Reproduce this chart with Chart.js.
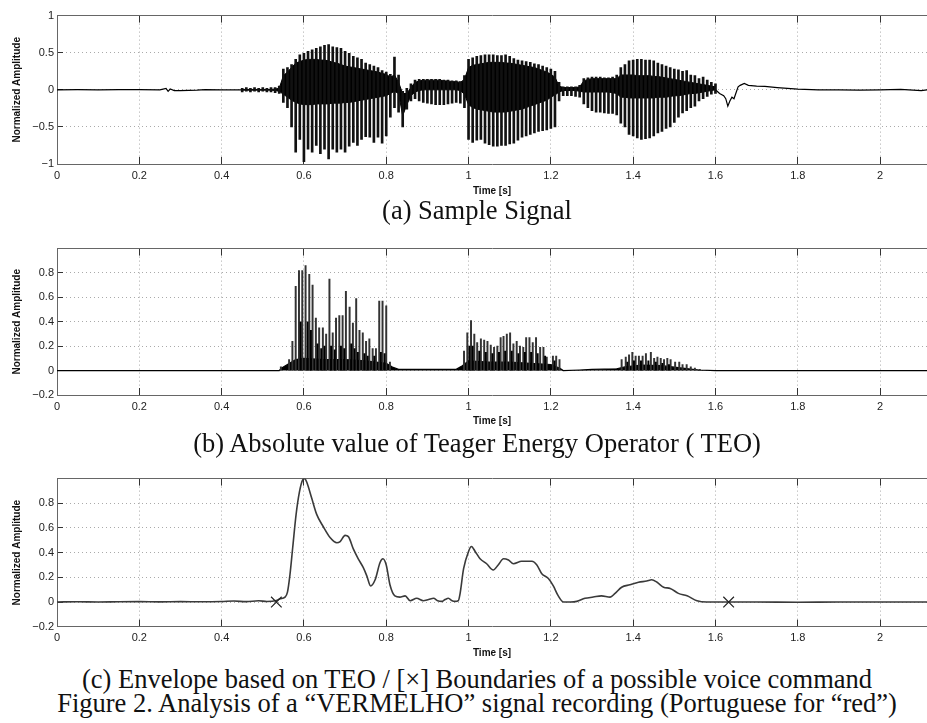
<!DOCTYPE html>
<html>
<head>
<meta charset="utf-8">
<script src="https://cdn.jsdelivr.net/npm/chart.js@4/dist/chart.umd.min.js"></script>
<style>
  html, body { margin: 0; padding: 0; background: #fff; width: 927px; height: 723px; overflow: hidden; }
  .panel { position: absolute; left: 0; width: 927px; height: 200px; }
  .cap { position: absolute; left: 0; width: 954px; text-align: center; white-space: nowrap;
         font-family: "Liberation Serif", "Times New Roman", serif; font-size: 26.5px; line-height: 30px; color: #111; }
</style>
</head>
<body>
<div class="panel" style="top:0px"><canvas id="chartA"></canvas></div>
<div class="cap" style="top:195px">(a) Sample Signal</div>
<div class="panel" style="top:233px"><canvas id="chartB"></canvas></div>
<div class="cap" style="top:428px">(b) Absolute value of Teager Energy Operator ( TEO)</div>
<div class="panel" style="top:463px"><canvas id="chartC"></canvas></div>
<div class="cap" style="top:664px">(c) Envelope based on TEO / [×] Boundaries of a possible voice command</div>
<div class="cap" style="top:688px">Figure 2. Analysis of a “VERMELHO” signal recording (Portuguese for “red”)</div>

<script>
// axes
var xMax = 2.114;
var xTicks = [0, 0.2, 0.4, 0.6, 0.8, 1, 1.2, 1.4, 1.6, 1.8, 2];
var yTicksA = [-1, -0.5, 0, 0.5, 1];
var yTicksBC = [-0.2, 0, 0.2, 0.4, 0.6, 0.8];

// (a) sample signal, read every 10 ms from 0.45 s to 1.60 s
var aStart = 0.45, aStep = 0.01;
var aHi = [0.02,0.03,0.02,0.03,0.02,0.03,0.02,0.03,0.03,0.05,
  0.28,0.30,0.34,0.41,0.47,0.49,0.52,0.54,0.56,0.58,
  0.60,0.61,0.58,0.57,0.56,0.52,0.49,0.45,0.43,0.41,
  0.36,0.34,0.32,0.30,0.26,0.24,0.21,0.44,0.20,-0.02,
  0.02,0.08,0.13,0.14,0.14,0.14,0.14,0.14,0.14,0.13,
  0.13,0.12,0.12,0.11,0.19,0.41,0.43,0.45,0.46,0.47,
  0.47,0.47,0.46,0.46,0.47,0.45,0.42,0.40,0.39,0.38,
  0.37,0.35,0.34,0.32,0.30,0.28,0.25,0.10,0.04,0.04,
  0.04,0.04,0.06,0.15,0.16,0.17,0.17,0.17,0.16,0.16,
  0.17,0.20,0.30,0.34,0.39,0.40,0.41,0.41,0.40,0.40,
  0.39,0.36,0.34,0.32,0.30,0.28,0.27,0.25,0.26,0.20,
  0.19,0.15,0.17,0.13,0.10,0.08];
var aLo = [-0.03,-0.02,-0.03,-0.02,-0.03,-0.02,-0.03,-0.03,-0.04,-0.05,
  -0.17,-0.24,-0.50,-0.84,-0.67,-0.97,-0.80,-0.84,-0.75,-0.86,
  -0.80,-0.93,-0.80,-0.84,-0.80,-0.84,-0.76,-0.71,-0.75,-0.67,
  -0.63,-0.64,-0.71,-0.64,-0.72,-0.62,-0.37,-0.24,-0.30,-0.50,
  -0.26,-0.15,-0.12,-0.15,-0.17,-0.18,-0.19,-0.20,-0.20,-0.20,
  -0.19,-0.18,-0.17,-0.18,-0.24,-0.67,-0.71,-0.68,-0.67,-0.72,
  -0.74,-0.76,-0.76,-0.75,-0.75,-0.73,-0.72,-0.68,-0.64,-0.62,
  -0.60,-0.58,-0.56,-0.55,-0.54,-0.52,-0.50,-0.15,-0.08,-0.08,
  -0.08,-0.09,-0.10,-0.19,-0.24,-0.28,-0.30,-0.30,-0.31,-0.32,
  -0.32,-0.34,-0.45,-0.50,-0.60,-0.62,-0.65,-0.67,-0.66,-0.65,
  -0.62,-0.58,-0.56,-0.52,-0.50,-0.44,-0.37,-0.31,-0.28,-0.24,
  -0.22,-0.15,-0.12,-0.09,-0.06,-0.05];
var aCoreHi = [0.005,0.005,0.005,0.005,0.005,0.005,0.005,0.005,0.01,0.02,
  0.19,0.24,0.30,0.36,0.38,0.40,0.41,0.41,0.41,0.40,
  0.40,0.39,0.37,0.36,0.34,0.32,0.31,0.30,0.29,0.28,
  0.27,0.26,0.25,0.24,0.22,0.21,0.17,0.20,0.10,-0.05,
  -0.05,0.03,0.10,0.12,0.13,0.13,0.13,0.13,0.13,0.12,
  0.12,0.11,0.11,0.10,0.14,0.30,0.33,0.34,0.35,0.36,
  0.37,0.37,0.37,0.37,0.36,0.36,0.35,0.34,0.33,0.32,
  0.31,0.30,0.28,0.26,0.24,0.21,0.17,0.05,0.03,0.03,
  0.03,0.03,0.04,0.12,0.14,0.15,0.15,0.15,0.15,0.15,
  0.15,0.15,0.20,0.20,0.20,0.20,0.19,0.19,0.19,0.19,
  0.18,0.18,0.17,0.16,0.15,0.14,0.13,0.12,0.11,0.10,
  0.09,0.08,0.07,0.06,0.05,0.04];
var aCoreLo = [-0.005,-0.005,-0.005,-0.005,-0.005,-0.005,-0.005,-0.005,-0.01,-0.02,
  -0.06,-0.10,-0.14,-0.17,-0.19,-0.20,-0.20,-0.20,-0.19,-0.19,
  -0.19,-0.19,-0.18,-0.18,-0.18,-0.17,-0.17,-0.16,-0.15,-0.14,
  -0.13,-0.12,-0.11,-0.10,-0.09,-0.08,-0.05,-0.02,-0.05,-0.35,
  -0.20,-0.08,-0.03,-0.01,0.00,0.00,0.00,0.00,0.00,0.00,
  0.00,0.00,0.00,-0.01,-0.06,-0.20,-0.24,-0.26,-0.27,-0.28,
  -0.29,-0.30,-0.30,-0.30,-0.30,-0.29,-0.28,-0.27,-0.26,-0.24,
  -0.22,-0.20,-0.18,-0.16,-0.14,-0.10,-0.07,-0.03,-0.01,-0.01,
  -0.01,-0.01,-0.02,-0.03,-0.03,-0.03,-0.03,-0.03,-0.03,-0.03,
  -0.04,-0.05,-0.10,-0.10,-0.11,-0.11,-0.11,-0.11,-0.11,-0.11,
  -0.11,-0.10,-0.10,-0.10,-0.09,-0.08,-0.08,-0.07,-0.06,-0.05,
  -0.05,-0.04,-0.03,-0.02,-0.01,0.00];
// quiet parts of (a)
var aLeadT = [0, 0.05, 0.1, 0.15, 0.2, 0.25, 0.265, 0.27, 0.275, 0.285, 0.3, 0.32, 0.34, 0.36, 0.4, 0.45];
var aLeadV = [0, 0.002, 0, 0.003, 0.002, 0, 0.02, -0.02, 0.01, -0.01, -0.012, -0.008, -0.005, 0.002, 0, 0];
var aTailT = [1.6, 1.61, 1.62, 1.625, 1.63, 1.635, 1.64, 1.645, 1.65, 1.655, 1.66, 1.67, 1.68, 1.7, 1.72, 1.75, 1.8, 1.85, 1.9, 1.95, 2.0, 2.05, 2.1, 2.114];
var aTailV = [0, -0.05, -0.08, -0.12, -0.22, -0.15, -0.1, -0.12, -0.04, 0.04, 0.06, 0.085, 0.06, 0.05, 0.045, 0.03, 0.01, 0, 0, -0.005, 0, 0.005, -0.01, 0];

// (b) |TEO|: main spikes, smaller spikes and dense base
var bMainT = [0.544,0.564,0.572,0.580,0.588,0.596,0.604,0.613,0.621,0.629,0.637,0.646,0.654,0.662,0.670,0.678,0.686,0.694,0.702,0.711,0.719,0.727,0.735,0.743,0.751,0.759,0.767,0.775,0.783,0.791,0.800,0.809,
  0.989,0.997,1.006,1.014,1.021,1.030,1.038,1.046,1.054,1.062,1.070,1.078,1.085,1.093,1.101,1.109,1.117,1.125,1.133,1.140,1.148,1.156,1.164,1.174,1.182,1.190,1.205,1.213,1.221,
  1.372,1.382,1.390,1.398,1.406,1.414,1.423,1.431,1.443,1.451,1.459,1.467,1.475,1.483,1.491,1.502,1.512,1.520,1.530,1.540,1.550,1.562];
var bMainV = [0.03,0.09,0.24,0.69,0.82,0.82,0.86,0.79,0.70,0.43,0.35,0.35,0.30,0.75,0.31,0.43,0.45,0.45,0.65,0.52,0.39,0.59,0.33,0.31,0.24,0.26,0.18,0.18,0.57,0.57,0.53,0.07,
  0.16,0.31,0.41,0.30,0.23,0.26,0.25,0.24,0.21,0.19,0.20,0.27,0.28,0.30,0.31,0.22,0.24,0.20,0.19,0.27,0.27,0.23,0.27,0.19,0.19,0.11,0.12,0.12,0.09,
  0.09,0.11,0.13,0.15,0.12,0.12,0.12,0.14,0.15,0.10,0.11,0.10,0.09,0.10,0.09,0.07,0.07,0.05,0.05,0.03,0.02,0.01];
var bMinorT = [0.592,0.609,0.617,0.633,0.642,0.650,0.666,0.675,0.690,0.698,0.715,0.723,0.731,0.747,0.755,0.771,0.787,0.796,
  1.002,1.010,1.026,1.042,1.058,1.074,1.089,1.105,1.121,1.137,1.152,1.168,1.186,1.209,
  1.386,1.402,1.419,1.437,1.455,1.471,1.487];
var bMinorV = [0.40,0.40,0.33,0.22,0.18,0.20,0.20,0.17,0.20,0.18,0.22,0.18,0.15,0.14,0.12,0.12,0.15,0.14,
  0.20,0.20,0.16,0.15,0.14,0.15,0.16,0.16,0.14,0.15,0.15,0.14,0.12,0.08,
  0.07,0.08,0.08,0.08,0.07,0.06,0.05];
var bCoreT = [0, 0.54, 0.545, 0.56, 0.58, 0.60, 0.65, 0.70, 0.75, 0.80, 0.815, 0.83, 0.97, 0.985, 1.0, 1.05, 1.1, 1.15, 1.2, 1.222, 1.23, 1.27, 1.30, 1.36, 1.38, 1.42, 1.47, 1.52, 1.56, 1.60, 2.114];
var bCoreV = [0, 0, 0.02, 0.05, 0.09, 0.10, 0.09, 0.09, 0.08, 0.06, 0.03, 0.01, 0.01, 0.04, 0.08, 0.07, 0.07, 0.06, 0.05, 0.02, 0, 0.005, 0.01, 0.015, 0.03, 0.045, 0.04, 0.02, 0.005, 0, 0];

// (c) envelope and the two boundary marks
var cTime = [0, 0.05, 0.1, 0.15, 0.2, 0.25, 0.3, 0.35, 0.4, 0.43, 0.46, 0.49, 0.51, 0.533, 0.542, 0.554, 0.56, 0.566, 0.573,
  0.581, 0.589, 0.597, 0.602, 0.607, 0.619, 0.631, 0.647, 0.664, 0.68, 0.688, 0.7, 0.708, 0.72, 0.732, 0.744, 0.753, 0.762,
  0.773, 0.785, 0.792, 0.8, 0.809, 0.821, 0.833, 0.846, 0.858, 0.874, 0.89, 0.903, 0.915, 0.925, 0.935, 0.943, 0.951, 0.96,
  0.967, 0.975, 0.979, 0.988, 1.0, 1.007, 1.016, 1.028, 1.044, 1.06, 1.072, 1.085, 1.097, 1.109, 1.129, 1.154, 1.166, 1.178,
  1.194, 1.206, 1.218, 1.231, 1.247, 1.263, 1.283, 1.303, 1.323, 1.344, 1.356, 1.372, 1.392, 1.413, 1.433, 1.445, 1.458,
  1.474, 1.49, 1.51, 1.531, 1.555, 1.579, 1.603, 1.632, 1.7, 1.8, 1.9, 2.0, 2.114];
var cValue = [0, 0.002, 0, 0.002, 0.003, 0.001, 0.003, 0.002, 0.004, 0.008, 0.003, 0.01, 0.004, 0.012, 0.026, 0.04, 0.08, 0.22, 0.45,
  0.71, 0.89, 0.99, 1.0, 0.97, 0.84, 0.71, 0.61, 0.52, 0.48, 0.49, 0.54, 0.53, 0.43, 0.35, 0.28, 0.21, 0.13,
  0.18, 0.32, 0.35, 0.30, 0.14, 0.05, 0.04, 0.05, 0.01, 0.03, 0.01, 0.02, 0.03, 0.01, 0.005, 0.02, 0.03, 0.01,
  0.005, 0.01, 0.06, 0.27, 0.41, 0.45, 0.41, 0.35, 0.31, 0.26, 0.30, 0.35, 0.34, 0.31, 0.33, 0.33, 0.30, 0.23,
  0.19, 0.13, 0.05, 0, 0, 0.005, 0.03, 0.04, 0.05, 0.04, 0.07, 0.12, 0.14, 0.16, 0.17, 0.18, 0.16,
  0.12, 0.11, 0.07, 0.05, 0.01, 0, 0, 0, 0, -0.002, 0, 0, 0];
var cMarkT = [0.533, 1.632];
var cMarkV = [0, 0];

Chart.defaults.font.family = '"Liberation Sans", Arial, sans-serif';
Chart.defaults.color = "#222";

function fmt(v) {
  return String(Math.round(v * 100) / 100).replace("-", "\u2212");
}
function pts(xs, ys) {
  return xs.map(function (x, i) { return { x: x, y: ys[i] }; });
}

function makePanel(id, datasets, yMin, yMax, yTicks, xAxisH, titlePad) {
  return new Chart(document.getElementById(id), {
    type: "line",
    data: { datasets: datasets },
    options: {
      animation: false,
      responsive: true,
      maintainAspectRatio: false,
      layout: { padding: 0, autoPadding: false },
      plugins: { legend: { display: false }, tooltip: { enabled: false } },
      scales: {
        x: {
          type: "linear", position: "bottom", min: 0, max: xMax, bounds: "data", offset: false,
          afterBuildTicks: function (s) { s.ticks = xTicks.map(function (v) { return { value: v }; }); },
          afterFit: function (s) { s.height = xAxisH; },
          grid: { color: "#aaa", lineWidth: 1, tickLength: -7, tickColor: "#333", offset: false },
          border: { color: "#666", width: 1, dash: [1, 3] },
          ticks: { padding: 12, font: { size: 11 }, maxRotation: 0, autoSkip: false, callback: fmt },
          title: { display: true, text: "Time [s]", color: "#111", font: { size: 10, weight: "bold" }, padding: { top: 0, bottom: titlePad } }
        },
        x2: {
          type: "linear", position: "top", min: 0, max: xMax, bounds: "data", offset: false,
          afterBuildTicks: function (s) { s.ticks = xTicks.map(function (v) { return { value: v }; }); },
          afterFit: function (s) { s.height = 9.3; },
          grid: { drawOnChartArea: false, tickLength: -7, tickColor: "#333" },
          border: { color: "#666", width: 1 },
          ticks: { display: false }
        },
        y: {
          type: "linear", position: "left", min: yMin, max: yMax, bounds: "data",
          afterBuildTicks: function (s) { s.ticks = yTicks.map(function (v) { return { value: v }; }); },
          afterFit: function (s) { s.width = 57; },
          grid: { color: "#aaa", lineWidth: 1, tickLength: -6, tickColor: "#333" },
          border: { color: "#666", width: 1, dash: [1, 3] },
          ticks: { padding: 9, font: { size: 11 }, callback: fmt },
          title: { display: true, text: "Normalized Amplitude", color: "#111", font: { size: 10, weight: "bold" }, padding: { top: 11, bottom: 0 } }
        }
      }
    }
  });
}

// (a)
var aTime = aHi.map(function (v, i) { return +(aStart + i * aStep).toFixed(3); });
makePanel("chartA", [
  { type: "bar", data: aTime.map(function (t, i) { return { x: t, y: [aLo[i], aHi[i]] }; }),
    backgroundColor: "#111", borderWidth: 0, barThickness: 2, grouped: false },
  { type: "line", data: pts(aTime, aCoreLo), borderColor: "#000", borderWidth: 1, pointRadius: 0, fill: false },
  { type: "line", data: pts(aTime, aCoreHi), borderColor: "#000", borderWidth: 1, pointRadius: 0, fill: "-1", backgroundColor: "#000" },
  { type: "line", data: pts(aLeadT, aLeadV), borderColor: "#000", borderWidth: 1.2, pointRadius: 0, fill: false },
  { type: "line", data: pts(aTailT, aTailV), borderColor: "#000", borderWidth: 1.2, pointRadius: 0, fill: false }
], -1, 1, yTicksA, 36, 3);

// (b)
makePanel("chartB", [
  { type: "bar", data: pts(bMinorT, bMinorV), backgroundColor: "#000", borderWidth: 0, barThickness: 1.3, grouped: false },
  { type: "bar", data: pts(bMainT, bMainV), backgroundColor: "#333", borderWidth: 0, barThickness: 1.3, grouped: false },
  { type: "line", data: pts(bCoreT, bCoreV), borderColor: "#000", borderWidth: 1.2, pointRadius: 0, fill: "origin", backgroundColor: "#000" }
], -0.2, 1, yTicksBC, 38, 6);

// (c)
makePanel("chartC", [
  { type: "line", data: pts(cMarkT, cMarkV), showLine: false, pointStyle: "crossRot", pointRadius: 7.5,
    pointBorderColor: "#222", pointBorderWidth: 1.2, pointBackgroundColor: "rgba(0,0,0,0)" },
  { type: "line", data: pts(cTime, cValue), borderColor: "#3a3a3a", borderWidth: 1.6, pointRadius: 0,
    cubicInterpolationMode: "monotone", fill: false }
], -0.2, 1, yTicksBC, 36.3, 3.5);
</script>
</body>
</html>
